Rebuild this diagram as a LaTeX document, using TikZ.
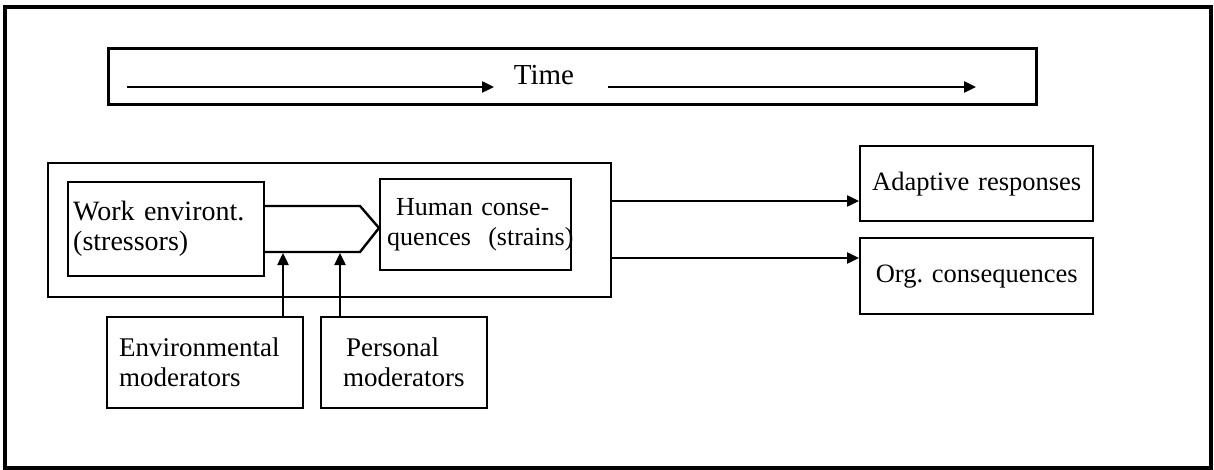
\documentclass[tikz,border=0pt]{standalone}
\usepackage{fontspec}
\setmainfont{Liberation Serif}
\usetikzlibrary{arrows.meta}
\frenchspacing
\begin{document}
\begin{tikzpicture}[x=1pt,y=-1pt,
  box/.style={draw, line width=2.4pt, inner ysep=0pt, anchor=north west},
  fs/.style={font=\fontsize{#1}{30}\selectfont},
  arr/.style={line width=2.4pt, -{Triangle[length=12pt,width=11pt]}},
  lin/.style={line width=2.4pt}]
\useasboundingbox (0,0) rectangle (1214,470);
% outer frame
\node[draw, line width=4pt, anchor=north west, minimum width=1206pt, minimum height=461pt, inner sep=0pt] (frame) at (3,5) {};
% time bar
\node[draw, line width=3pt, anchor=north west, minimum width=928pt, minimum height=56pt, inner sep=0pt] (timebox) at (107,47) {};
\node[fs=29, inner sep=0pt] (time) at (544,75) {Time};
\coordinate (t1s) at (127,87);
\coordinate (t1e) at (494,87);
\coordinate (t2s) at (608,87);
\coordinate (t2e) at (976,87);
\draw[arr] (t1s) -- (t1e);
\draw[arr] (t2s) -- (t2e);
% group box
\node[draw, line width=2.4pt, anchor=north west, minimum width=563pt, minimum height=134pt, inner sep=0pt] (group) at (47,162) {};
\node[box, fs=28, minimum width=196pt, minimum height=94pt, inner xsep=5pt, text width=186pt, align=left] (work) at (67,181) {Work environt.\\(stressors)};
\node[box, fs=26, minimum width=191pt, minimum height=91pt, inner xsep=7pt, text width=177pt, align=left] (human) at (379,178) {\hspace{9pt}Human conse-\\\mbox{quences\ \ (strains)}};
% chevron
\coordinate (c1) at (263,206);
\coordinate (c2) at (360,206);
\coordinate (c3) at (379,228);
\coordinate (c4) at (360,252);
\coordinate (c5) at (263,252);
\draw[lin, line join=miter] (c1) -- (c2) -- (c3) -- (c4) -- (c5);
% moderators
\node[box, fs=27, minimum width=196pt, minimum height=91pt, inner xsep=12pt, text width=172pt, align=left] (env) at (106,316) {Environmental\\moderators};
\node[box, fs=27, minimum width=166pt, minimum height=91pt, inner xsep=22pt, text width=122pt, align=left] (pers) at (320,316) {\hspace{3pt}Personal\\moderators};
\coordinate (a1) at (283,253);
\coordinate (a2) at (340,253);
\draw[arr] (env.north -| a1) -- (a1);
\draw[arr] (pers.north -| a2) -- (a2);
% outcomes
\node[box, fs=26.5, minimum width=233pt, minimum height=75pt, inner xsep=2pt, text width=229pt, align=center] (adapt) at (859,145) {Adaptive responses};
\node[box, fs=26.5, minimum width=233pt, minimum height=76pt, inner xsep=2pt, text width=229pt, align=center] (org) at (859,237) {Org. consequences};
\coordinate (r1) at (0,201);
\coordinate (r2) at (0,258);
\draw[arr] (group.east |- r1) -- (adapt.west |- r1);
\draw[arr] (group.east |- r2) -- (org.west |- r2);
\end{tikzpicture}
\end{document}
